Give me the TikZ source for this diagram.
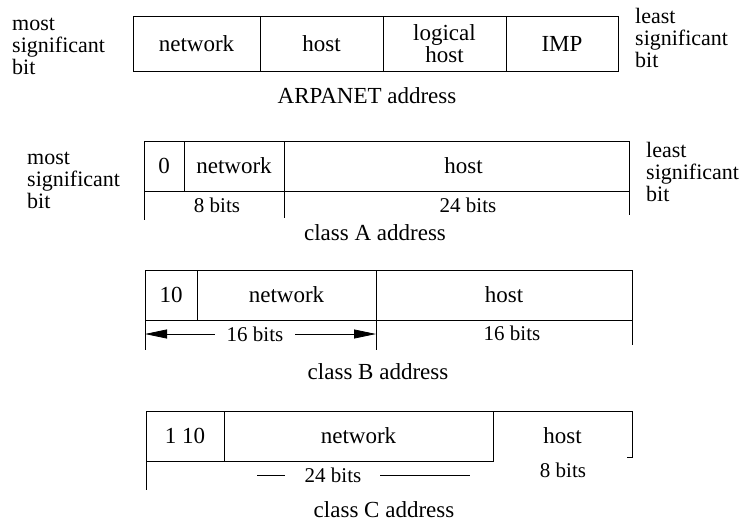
\documentclass[tikz,border=0pt]{standalone}
\usepackage{fontspec}
\setmainfont{Liberation Serif}
\usetikzlibrary{positioning,arrows.meta}

\begin{document}
\begin{tikzpicture}[
  x=1pt, y=-1pt,
  font=\fontsize{23}{22.5}\selectfont,
  field/.style={rectangle, draw, line width=0.8pt, inner sep=0pt, outer sep=0pt, align=center},
  opencell/.style={rectangle, inner sep=0pt, outer sep=0pt},
  sidetext/.style={align=left, inner sep=0pt, anchor=west, font=\fontsize{22}{22}\selectfont},
  bits/.style={inner sep=0pt, font=\fontsize{21}{20}\selectfont},
  caption/.style={inner sep=0pt},
  tick/.style={line width=0.8pt},
  dim/.style={-{Triangle[length=22pt,width=9pt]}, line width=0.8pt, shorten <=12pt}
]
\useasboundingbox (0,0) rectangle (745,522);

% ARPANET address
\node[field, minimum width=127, minimum height=55, anchor=north west] (arpNet) at (133,16) {network};
\node[field, minimum width=123, minimum height=55, right=0pt of arpNet] (arpHost) {host};
\node[field, minimum width=123, minimum height=55, right=0pt of arpHost] (arpLogical) {logical\\host};
\node[field, minimum width=112, minimum height=55, right=0pt of arpLogical] (arpImp) {IMP};
\node[sidetext] (arpMost) at (12,46) {most\\significant\\bit};
\node[sidetext] (arpLeast) at (635,38) {least\\significant\\bit};
\node[caption] (arpCaption) at (367,96) {ARPANET address};

% class A
\node[field, minimum width=40, minimum height=50, anchor=north west] (aZero) at (144,141) {0};
\node[field, minimum width=100, minimum height=50, right=0pt of aZero] (aNet) {network};
\node[field, minimum width=345, minimum height=50, right=0pt of aNet] (aHost) {\hspace{14pt}host};
\node[sidetext] (aMost) at (27,180) {most\\significant\\bit};
\node[sidetext] (aLeast) at (646,172) {least\\significant\\bit};
\draw[tick] (aZero.south west) -- ++(0,29);
\draw[tick] (aNet.south east) -- ++(0,27);
\draw[tick] (aHost.south east) -- ++(0,24);
\node[bits] (aNetBits) at (217,205) {8 bits};
\node[bits] (aHostBits) at (468,205) {24 bits};
\node[caption] (aCaption) at (375,233) {class A address};

% class B
\node[field, minimum width=52, minimum height=50, anchor=north west] (bTen) at (145,270) {10};
\node[field, minimum width=179, minimum height=50, right=0pt of bTen] (bNet) {network};
\node[field, minimum width=256, minimum height=50, right=0pt of bNet] (bHost) {host};
\draw[tick] (bTen.south west) -- ++(0,30);
\draw[tick] (bNet.south east) -- ++(0,30);
\draw[tick] (bHost.south east) -- ++(0,25);
\node[bits] (bNetBits) at (255,334) {16 bits};
\node[bits] (bHostBits) at (512,333) {16 bits};
\draw[dim] (bNetBits.west) -- (bNetBits.west -| bTen.west);
\draw[dim] (bNetBits.east) -- (bNetBits.east -| bNet.east);
\node[caption] (bCaption) at (378,372) {class B address};

% class C
\node[field, minimum width=78, minimum height=50, anchor=north west] (cOneTen) at (146,411) {1 10};
\node[field, minimum width=269, minimum height=50, right=0pt of cOneTen] (cNet) {network};
\node[opencell, minimum width=139, minimum height=50, right=0pt of cNet] (cHost) {host};
\draw[line width=0.8pt] (cHost.north west) -- (cHost.north east) -- ([yshift=4pt]cHost.south east) -- ++(-5,0);
\draw[tick] (cOneTen.south west) -- ++(0,29);
\node[bits] (cNetBits) at (333,475) {24 bits};
\node[bits] (cHostBits) at (563,470) {8 bits};
\draw[tick] ([xshift=-20pt]cNetBits.west) -- ++(-28,0);
\draw[tick] ([xshift=19pt]cNetBits.east) -- ++(90,0);
\node[caption] (cCaption) at (384,510) {class C address};

\end{tikzpicture}
\end{document}
